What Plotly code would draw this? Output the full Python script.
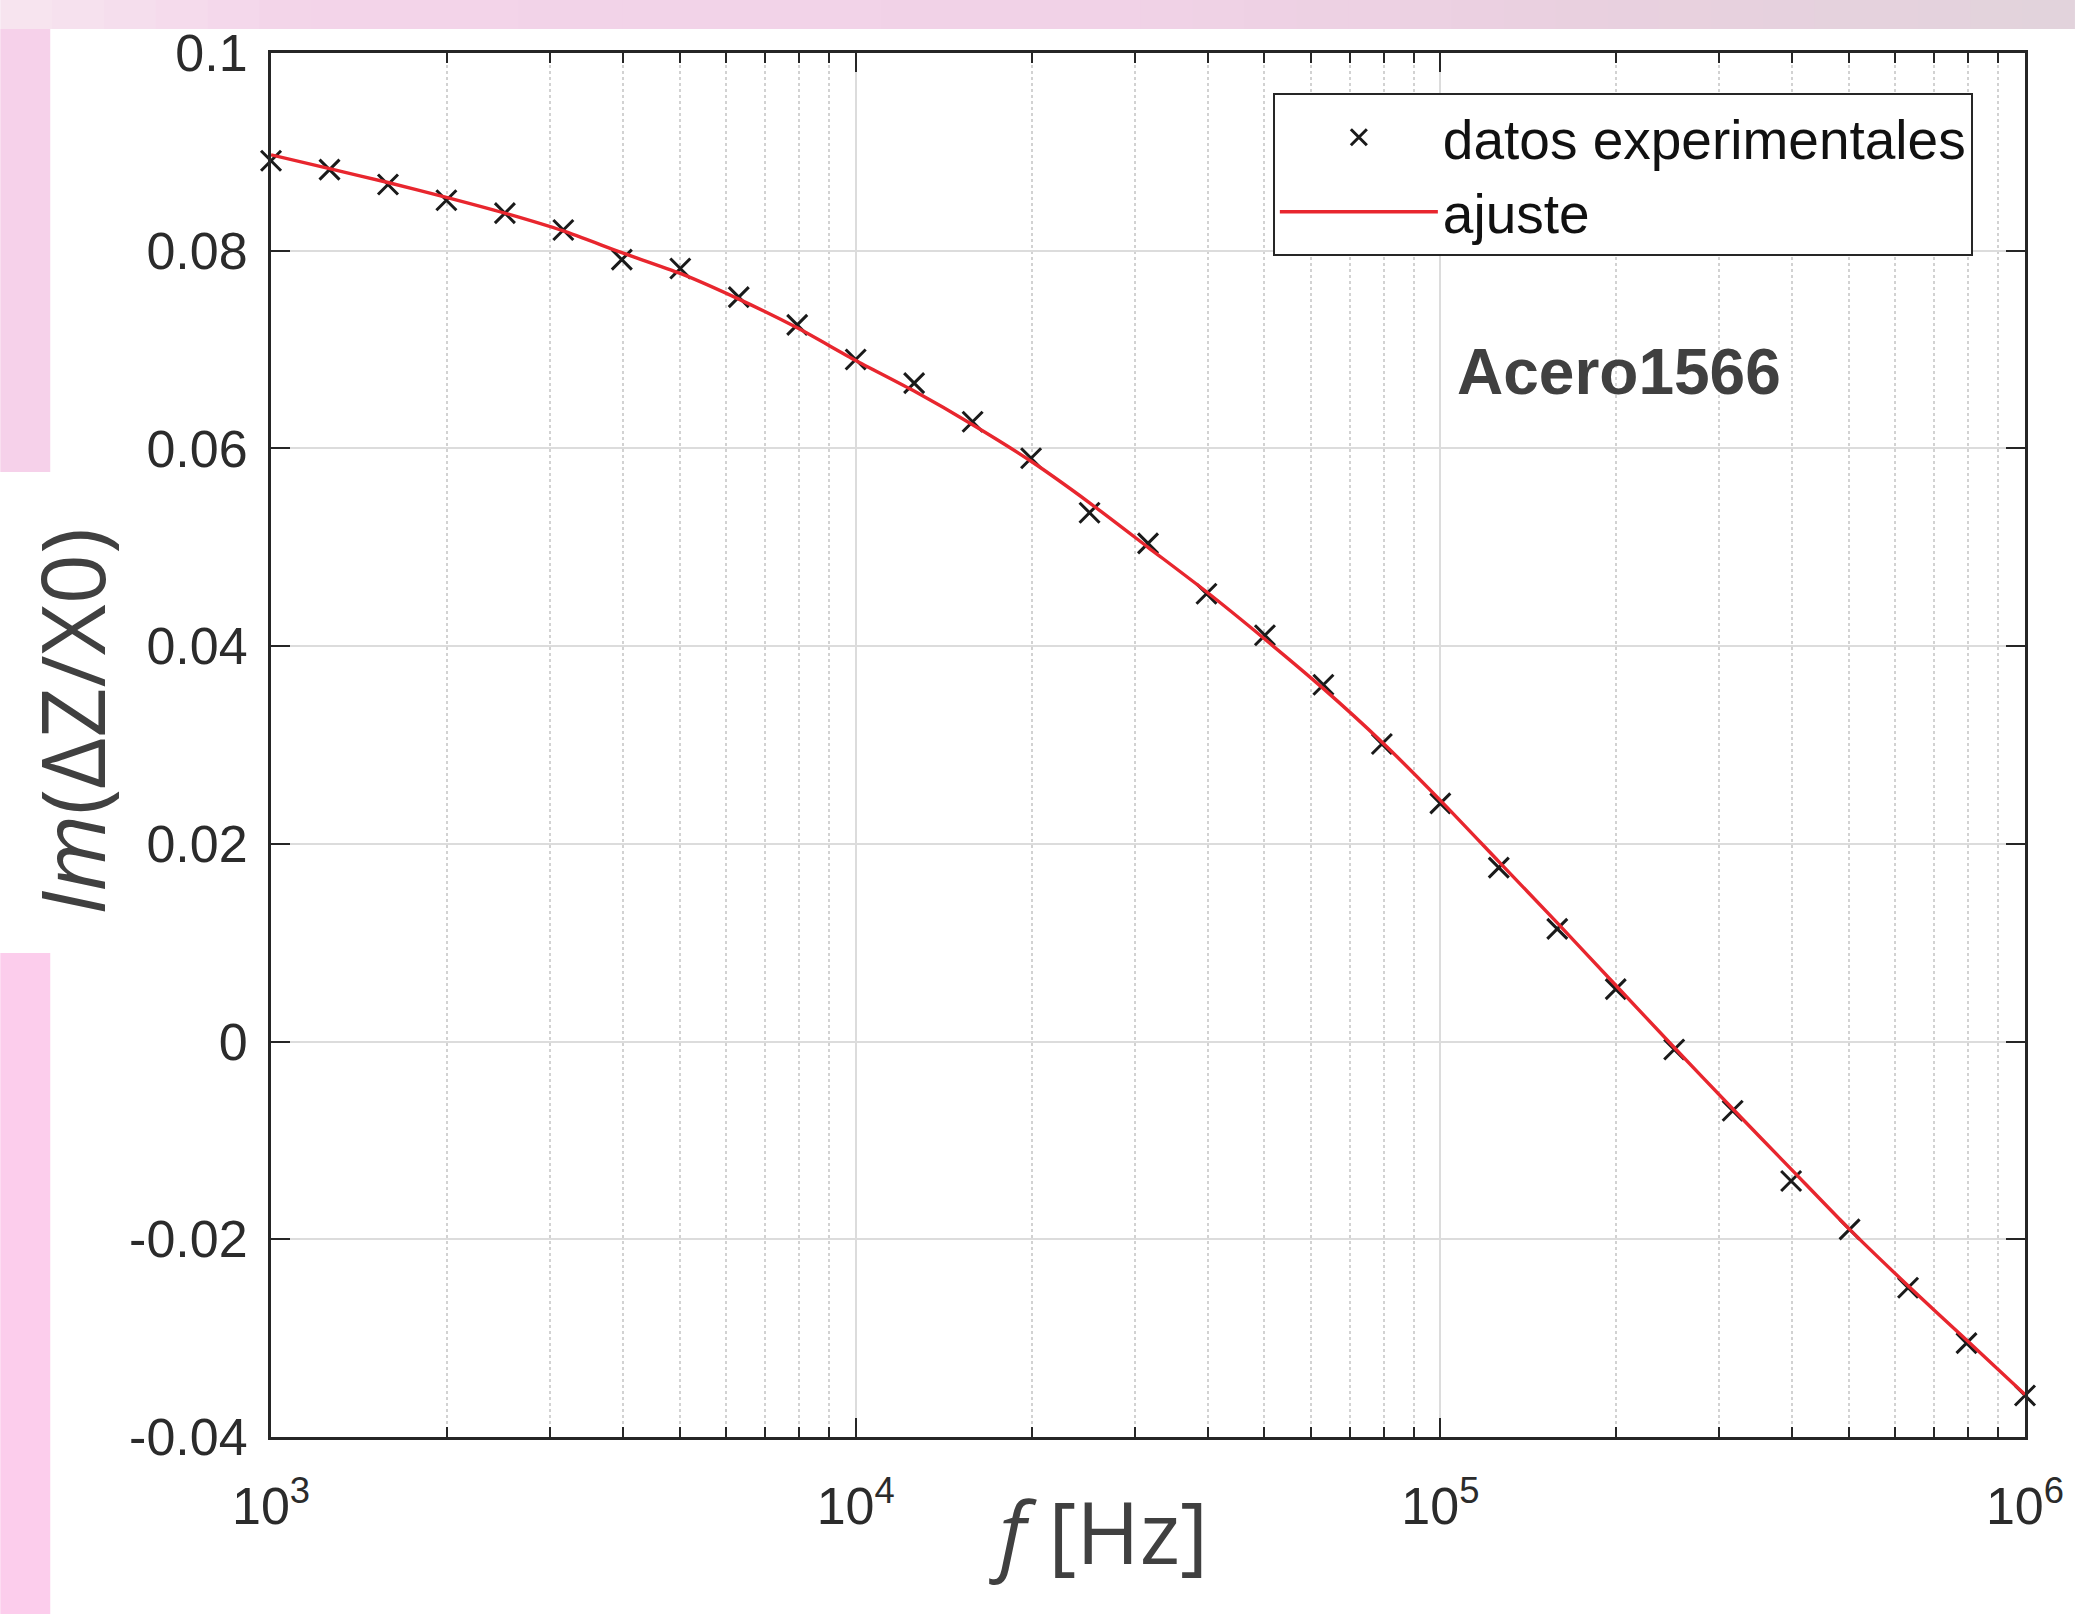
import plotly.graph_objects as go

# ---------------- data ----------------
freq_hz = [1000, 1259, 1585, 1995, 2512, 3162, 3981, 5012, 6310, 7943,
           10000, 12589, 15849, 19953, 25119, 31623, 39811, 50119, 63096, 79433,
           100000, 125893, 158489, 199526, 251189, 316228, 398107, 501187, 630957, 794328,
           1000000]
im_experimental = [0.0891, 0.0882, 0.0867, 0.0851, 0.0838, 0.0821, 0.0791, 0.0782, 0.0753, 0.0725,
                   0.0690, 0.0666, 0.0627, 0.0590, 0.0535, 0.0504, 0.0453, 0.0411, 0.0361, 0.0301,
                   0.0241, 0.0176, 0.0114, 0.0053, -0.0008, -0.0070, -0.0141, -0.0190, -0.0249, -0.0305,
                   -0.0358]
im_fit = [0.0897, 0.0883, 0.0869, 0.0854, 0.0838, 0.0820, 0.0798, 0.0777, 0.0751, 0.0722,
          0.0689, 0.0658, 0.0624, 0.0587, 0.0545, 0.0500, 0.0455, 0.0407, 0.0357, 0.0303,
          0.0244, 0.0182, 0.0120, 0.0057, -0.0006, -0.0068, -0.0129, -0.0190, -0.0247, -0.0302,
          -0.0357]

x_tick_vals = [1e3, 1e4, 1e5, 1e6]
x_tick_text = ["10<sup>3</sup>", "10<sup>4</sup>", "10<sup>5</sup>", "10<sup>6</sup>"]
x_minor_mult = [2, 3, 4, 5, 6, 7, 8, 9]
y_tick_vals = [-0.04, -0.02, 0, 0.02, 0.04, 0.06, 0.08, 0.1]
y_tick_text = ["-0.04", "-0.02", "0", "0.02", "0.04", "0.06", "0.08", "0.1"]

legend_names = ["datos experimentales", "ajuste"]
panel_label = "Acero1566"
x_title = "<i>f</i> [Hz]"
y_title = "<i>Im</i>(ΔZ/X0)"

# ---------------- geometry ----------------
W, H = 2076, 1614
L, R, T, B = 271, 2027, 53, 1437


def px(xp):
    return (xp - L) / (R - L)


def py(yp):
    return (B - yp) / (B - T)


minor_vals = [m * d for d in x_tick_vals[:-1] for m in x_minor_mult]

AX = "#262626"
fig = go.Figure()

fig.add_trace(go.Scatter(
    x=freq_hz, y=im_experimental, mode="markers", name=legend_names[0],
    marker=dict(symbol="x-thin", size=20, line=dict(width=3, color="#1a1a1a"), color="#1a1a1a"),
    cliponaxis=False,
))
fig.add_trace(go.Scatter(
    x=freq_hz, y=im_fit, mode="lines", name=legend_names[1],
    line=dict(color="#e8262e", width=3.4, shape="spline", smoothing=0.6),
    cliponaxis=False,
))

# ---------------- background (slide pink edges) ----------------
shapes = []


def hexmix(c1, c2, t):
    a = [int(c1[i:i + 2], 16) for i in (1, 3, 5)]
    b = [int(c2[i:i + 2], 16) for i in (1, 3, 5)]
    return "#" + "".join(f"{round(a[k] + (b[k] - a[k]) * t):02x}" for k in range(3))


keys = [(0, "#f7e6f0"), (300, "#f3d4e9"), (1100, "#f1d2e7"), (1600, "#e9d0df"), (2076, "#e2d3dc")]
nseg = 40
for i in range(nseg):
    x0 = W * i / nseg
    x1 = W * (i + 1) / nseg
    xm = (x0 + x1) / 2
    col = keys[0][1]
    for j in range(len(keys) - 1):
        if keys[j][0] <= xm <= keys[j + 1][0]:
            t = (xm - keys[j][0]) / (keys[j + 1][0] - keys[j][0])
            col = hexmix(keys[j][1], keys[j + 1][1], t)
    shapes.append(dict(type="rect", xref="paper", yref="paper", layer="below",
                       x0=px(x0), x1=px(x1 + 1), y0=py(29), y1=py(0),
                       fillcolor=col, line=dict(width=0)))
shapes.append(dict(type="rect", xref="paper", yref="paper", layer="below",
                   x0=px(0), x1=px(50), y0=py(472), y1=py(29),
                   fillcolor="#f6d1ea", line=dict(width=0)))
shapes.append(dict(type="rect", xref="paper", yref="paper", layer="below",
                   x0=px(0), x1=px(50), y0=py(H), y1=py(953),
                   fillcolor="#fccdec", line=dict(width=0)))

tickfont = dict(family="Liberation Sans, Arial, Helvetica, sans-serif", size=52, color="#2b2b2b")

fig.update_layout(
    width=W, height=H,
    margin=dict(l=L, r=W - R, t=T, b=H - B, pad=0),
    paper_bgcolor="white", plot_bgcolor="white",
    shapes=shapes,
    showlegend=True,
    legend=dict(
        x=px(1274), y=py(93), xanchor="left", yanchor="top",
        bgcolor="white", bordercolor=AX, borderwidth=2,
        font=dict(family="Liberation Sans, Arial, Helvetica, sans-serif", size=55, color="#111111"),
        itemwidth=158, tracegroupgap=0,
    ),
    xaxis=dict(
        type="log", range=[2.99995, 6.00002],
        tickvals=x_tick_vals, ticktext=x_tick_text,
        ticks="inside", ticklen=19, tickwidth=2, tickcolor=AX,
        showline=True, linecolor=AX, linewidth=3, mirror="allticks",
        showgrid=True, gridcolor="#dcdcdc", gridwidth=2,
        tickfont=tickfont, ticklabelstandoff=22,
        zeroline=False,
        minor=dict(tickvals=minor_vals, ticks="inside", ticklen=10, tickwidth=2, tickcolor=AX,
                   showgrid=True, gridcolor="#d2d2d2", gridwidth=1.5, griddash="dot"),
    ),
    yaxis=dict(
        range=[-0.04, 0.1],
        tickvals=y_tick_vals, ticktext=y_tick_text,
        ticks="inside", ticklen=19, tickwidth=2, tickcolor=AX,
        showline=True, linecolor=AX, linewidth=3, mirror="allticks",
        showgrid=True, gridcolor="#dcdcdc", gridwidth=2,
        tickfont=tickfont, ticklabelstandoff=10,
        zeroline=False,
    ),
    annotations=[
        dict(text=panel_label, xref="paper", yref="paper", x=px(1621), y=py(372),
             xanchor="center", yanchor="middle", showarrow=False,
             font=dict(family="Liberation Sans, Arial, sans-serif", size=64, color="#404040", weight="bold")),
        dict(text=x_title, xref="paper", yref="paper", x=px(1099), y=py(1530),
             xanchor="center", yanchor="middle", showarrow=False,
             font=dict(family="Open Sans, Noto Sans, sans-serif", size=86, color="#404040")),
        dict(text=y_title, xref="paper", yref="paper", x=px(71), y=py(722),
             xanchor="center", yanchor="middle", showarrow=False, textangle=-90,
             font=dict(family="Open Sans, Noto Sans, sans-serif", size=88, color="#404040")),
    ],
)

fig.write_html("out.html", config={"displayModeBar": False},
               post_script="document.body.style.margin='0px';")
